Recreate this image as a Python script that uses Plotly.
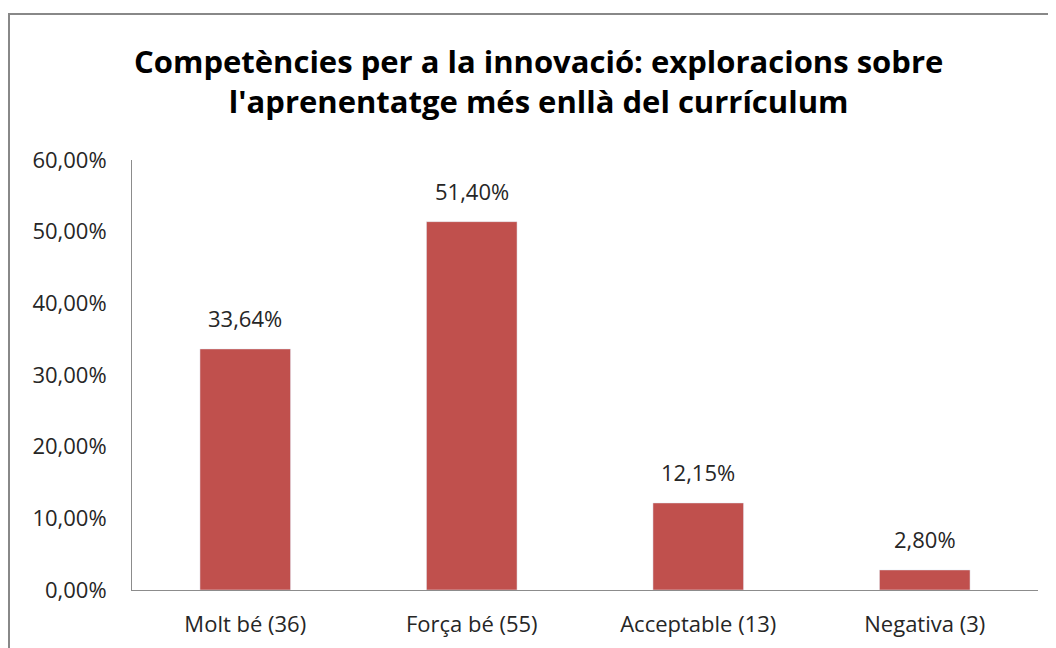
import plotly.graph_objects as go

categories = ["Molt bé (36)", "Força bé (55)", "Acceptable (13)", "Negativa (3)"]
shares = [0.3364, 0.5140, 0.1215, 0.0280]

title_text = ("Competències per a la innovació: exploracions sobre<br>"
              "l'aprenentatge més enllà del currículum")

TEXT = "#262626"
FONT = "Open Sans, DejaVu Sans, sans-serif"

fig = go.Figure(
    go.Bar(
        x=categories,
        y=shares,
        marker_color="#C0504D",
        hoverinfo="x+y",
    )
)

# value labels sit a bit higher above the bars, Excel-style
for cat, val in zip(categories, shares):
    fig.add_annotation(
        x=cat, y=val,
        text=f"{val * 100:.2f}%".replace(".", ","),
        showarrow=False,
        yanchor="bottom",
        yshift=14,
        font=dict(size=22, color=TEXT, family=FONT),
    )

fig.update_layout(
    width=1056,
    height=648,
    margin=dict(l=124, r=26, t=152, b=66),
    paper_bgcolor="white",
    plot_bgcolor="white",
    separators=",.",
    bargap=0.6,
    showlegend=False,
    font=dict(family=FONT, size=22, color=TEXT),
)

fig.add_annotation(
    text=title_text,
    xref="paper", yref="paper",
    x=(530 - 124) / 906, y=(582 - 73) / 430,
    xanchor="center", yanchor="middle",
    showarrow=False,
    font=dict(size=31, color="#000000", family=FONT, weight="bold"),
)

fig.update_yaxes(
    range=[0, 0.6],
    dtick=0.1,
    tickformat=".2%",
    showgrid=False,
    zeroline=False,
    showline=True,
    linecolor="#8c8c8c",
    linewidth=1,
    ticks="",
    ticklabelstandoff=20,
    tickfont=dict(size=22, color=TEXT),
)
fig.update_xaxes(
    showgrid=False,
    showline=True,
    linecolor="#8c8c8c",
    linewidth=1,
    ticks="",
    ticklabelstandoff=15,
    tickfont=dict(size=22, color=TEXT),
)

# chart-area frame
fig.add_shape(
    type="rect",
    xref="paper", yref="paper",
    x0=(1 - 124) / 906, x1=(1070 - 124) / 906,
    y0=(582 - 670) / 430, y1=(582 - 6) / 430,
    line=dict(color="#888888", width=2),
    fillcolor="rgba(0,0,0,0)",
    layer="below",
)

fig.write_html("out.html")
